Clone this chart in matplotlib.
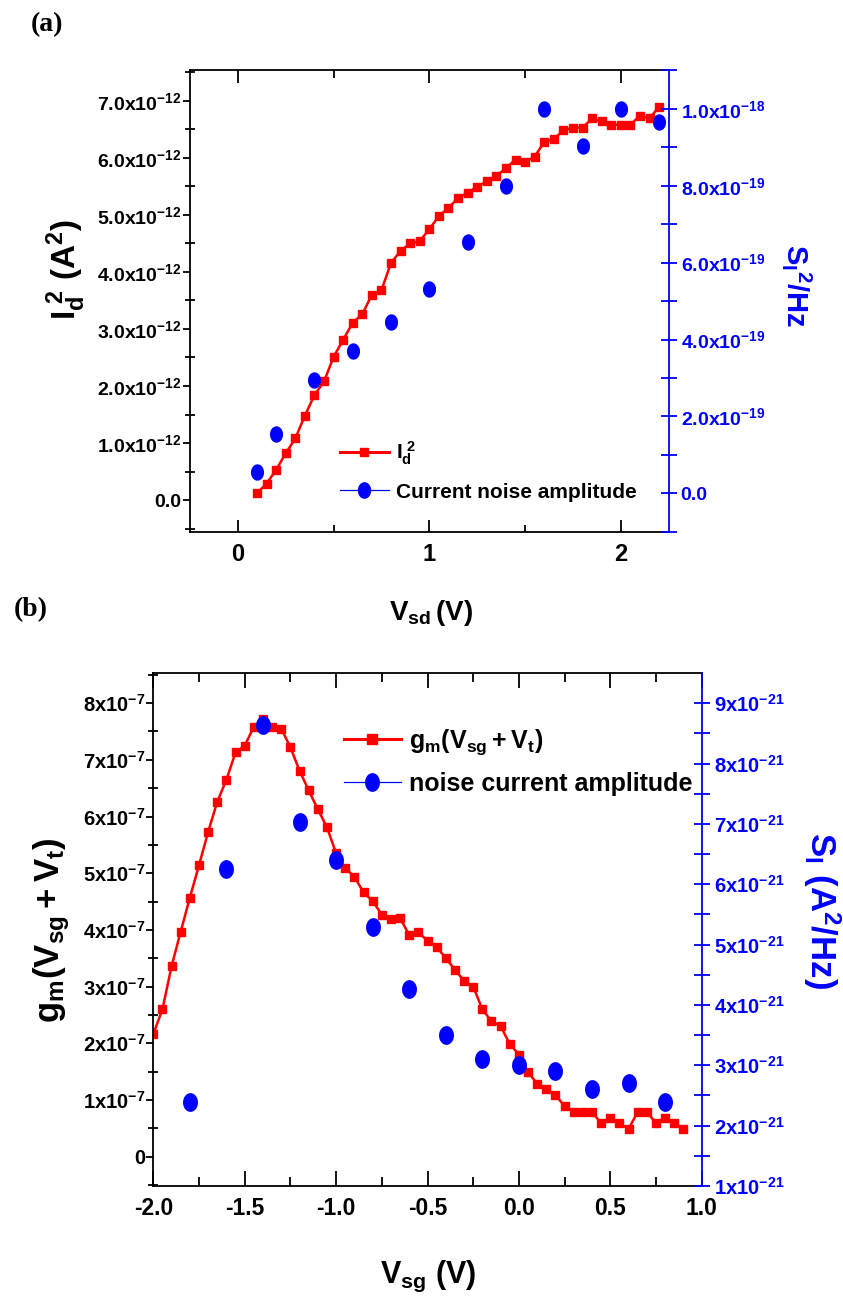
import numpy as np
import matplotlib
matplotlib.use("Agg")
from matplotlib import pyplot as plt
from matplotlib.lines import Line2D
from matplotlib.ticker import FixedLocator, MultipleLocator

plt.rcParams['font.family'] = ['Liberation Sans', 'DejaVu Sans']
plt.rcParams['font.weight'] = 'bold'
plt.rcParams['mathtext.fontset'] = 'custom'
plt.rcParams['mathtext.rm'] = 'Liberation Sans:bold'
plt.rcParams['mathtext.bf'] = 'Liberation Sans:bold'
plt.rcParams['mathtext.it'] = 'Liberation Sans:bold'
plt.rcParams['axes.unicode_minus'] = False

# ---- panel (a) data ----
vsd = [0.10, 0.15, 0.20, 0.25, 0.30, 0.35, 0.40, 0.45, 0.50, 0.55, 0.60,
       0.65, 0.70, 0.75, 0.80, 0.85, 0.90, 0.95, 1.00, 1.05, 1.10, 1.15,
       1.20, 1.25, 1.30, 1.35, 1.40, 1.45, 1.50, 1.55, 1.60, 1.65, 1.70,
       1.75, 1.80, 1.85, 1.90, 1.95, 2.00, 2.05, 2.10, 2.15, 2.20]
id2 = [0.12, 0.29, 0.53, 0.82, 1.08, 1.48, 1.84, 2.08, 2.51, 2.81, 3.11,
       3.26, 3.60, 3.68, 4.16, 4.37, 4.50, 4.54, 4.75, 4.98, 5.12, 5.30,
       5.39, 5.49, 5.59, 5.68, 5.82, 5.97, 5.93, 6.02, 6.28, 6.33, 6.48,
       6.53, 6.53, 6.69, 6.64, 6.58, 6.58, 6.58, 6.74, 6.69, 6.90]  # x1e-12 A^2
vsd_noise = [0.1, 0.2, 0.4, 0.6, 0.8, 1.0, 1.2, 1.4, 1.6, 1.8, 2.0, 2.2]
si_a = [0.55, 1.54, 2.96, 3.71, 4.46, 5.31, 6.54, 8.00, 10.0, 9.04, 10.0, 9.67]  # x1e-19

a_left_ticks = [0, 1, 2, 3, 4, 5, 6, 7]
a_left_labels = ['0.0', r'$\mathbf{1.0x10^{-12}}$', r'$\mathbf{2.0x10^{-12}}$',
                 r'$\mathbf{3.0x10^{-12}}$', r'$\mathbf{4.0x10^{-12}}$',
                 r'$\mathbf{5.0x10^{-12}}$', r'$\mathbf{6.0x10^{-12}}$',
                 r'$\mathbf{7.0x10^{-12}}$']
a_right_ticks = [0, 2, 4, 6, 8, 10]
a_right_labels = ['0.0', r'$\mathbf{2.0x10^{-19}}$', r'$\mathbf{4.0x10^{-19}}$',
                  r'$\mathbf{6.0x10^{-19}}$', r'$\mathbf{8.0x10^{-19}}$',
                  r'$\mathbf{1.0x10^{-18}}$']
a_x_ticks = [0, 1, 2]
a_x_labels = ['0', '1', '2']

# ---- panel (b) data ----
vsg = [-2.00, -1.95, -1.90, -1.85, -1.80, -1.75, -1.70, -1.65, -1.60, -1.55,
       -1.50, -1.45, -1.40, -1.35, -1.30, -1.25, -1.20, -1.15, -1.10, -1.05,
       -1.00, -0.95, -0.90, -0.85, -0.80, -0.75, -0.70, -0.65, -0.60, -0.55,
       -0.50, -0.45, -0.40, -0.35, -0.30, -0.25, -0.20, -0.15, -0.10, -0.05,
       0.00, 0.05, 0.10, 0.15, 0.20, 0.25, 0.30, 0.35, 0.40, 0.45,
       0.50, 0.55, 0.60, 0.65, 0.70, 0.75, 0.80, 0.85, 0.90]
gm = [2.16, 2.60, 3.36, 3.97, 4.57, 5.14, 5.73, 6.26, 6.65, 7.13,
      7.25, 7.58, 7.72, 7.58, 7.55, 7.22, 6.81, 6.46, 6.13, 5.81,
      5.35, 5.09, 4.94, 4.66, 4.51, 4.27, 4.20, 4.21, 3.91, 3.96,
      3.81, 3.70, 3.50, 3.30, 3.10, 3.00, 2.60, 2.39, 2.30, 1.99,
      1.80, 1.49, 1.29, 1.19, 1.09, 0.89, 0.79, 0.79, 0.79, 0.59,
      0.69, 0.59, 0.49, 0.79, 0.79, 0.59, 0.69, 0.59, 0.49]  # x1e-7
vsg_noise = [-1.8, -1.6, -1.4, -1.2, -1.0, -0.8, -0.6, -0.4, -0.2, 0.0,
             0.2, 0.4, 0.6, 0.8]
si_b = [2.39, 6.25, 8.64, 7.03, 6.40, 5.30, 4.27, 3.50, 3.10, 3.00,
        2.90, 2.60, 2.70, 2.39]  # x1e-21

b_left_ticks = [0, 1, 2, 3, 4, 5, 6, 7, 8]
b_left_labels = ['0'] + [r'$\mathbf{%dx10^{-7}}$' % k for k in range(1, 9)]
b_right_ticks = [1, 2, 3, 4, 5, 6, 7, 8, 9]
b_right_labels = [r'$\mathbf{%dx10^{-21}}$' % k for k in range(1, 10)]
b_x_ticks = [-2.0, -1.5, -1.0, -0.5, 0.0, 0.5, 1.0]
b_x_labels = ['-2.0', '-1.5', '-1.0', '-0.5', '0.0', '0.5', '1.0']

RED = '#ff0000'
BLUE = '#0000ff'

# ellipse marker (circles look slightly taller than wide)
t = np.linspace(0, 2 * np.pi, 41)
ellipse = np.column_stack([0.78 * np.cos(t), np.sin(t)])

W, H = 843, 1303
fig = plt.figure(figsize=(W / 100, H / 100), dpi=100, facecolor='white')


def style_panel(ax, ax2, xmin, xlen, ymin_step, rmin_step):
    ax.spines['right'].set_visible(False)
    for s in ['left', 'top', 'bottom']:
        ax.spines[s].set_linewidth(1.3)
    ax2.spines['right'].set_color(BLUE)
    ax2.spines['right'].set_linewidth(1.3)
    for s in ['left', 'top', 'bottom']:
        ax2.spines[s].set_visible(False)
    ax.xaxis.set_minor_locator(MultipleLocator(xmin))
    ax.yaxis.set_minor_locator(MultipleLocator(ymin_step))
    ax2.yaxis.set_minor_locator(MultipleLocator(rmin_step))
    ax.tick_params(axis='x', which='major', direction='in', length=xlen, width=1.3,
                   top=True, pad=8)
    ax.tick_params(axis='x', which='minor', direction='in', length=xlen * 0.6,
                   width=1.3, top=True)
    ax.tick_params(axis='y', which='major', direction='out', length=5, width=1.3, pad=1)
    ax.tick_params(axis='y', which='minor', direction='inout', length=7, width=1.3)
    ax2.tick_params(axis='y', which='both', direction='inout', length=11, width=1.3,
                    colors=BLUE, pad=3)


# ================= panel (a) =================
axa = fig.add_axes([190 / W, 1 - 532 / H, 478.7 / W, 462 / H])
axa2 = axa.twinx()
axa.plot(vsd, id2, '-s', color=RED, lw=1.8, ms=5.2, mec=RED)
axa2.plot(vsd_noise, si_a, linestyle='none', marker=ellipse, ms=10.8,
          color=BLUE, mec=BLUE)
axa.set_xlim(-0.25, 2.25)
axa.set_ylim(-0.56, 7.54)
axa2.set_ylim(-1.006, 11.01)
axa.xaxis.set_major_locator(FixedLocator(a_x_ticks))
axa.set_xticklabels(a_x_labels, fontsize=17)
axa.yaxis.set_major_locator(FixedLocator(a_left_ticks))
axa.set_yticklabels(a_left_labels, fontsize=14)
axa2.yaxis.set_major_locator(FixedLocator(a_right_ticks))
axa2.set_yticklabels(a_right_labels, fontsize=14, color=BLUE)
style_panel(axa, axa2, 0.5, 9, 0.5, 1)

ha = [Line2D([], [], color=RED, lw=2.2, marker='s', ms=6, mec=RED),
      Line2D([], [], color=BLUE, lw=0.9, marker=ellipse, ms=11, mec=BLUE)]
axa2.legend(ha, [r'$\mathbf{I_d^{\ 2}}$', 'Current noise amplitude'],
            loc='center left', bbox_to_anchor=(0.313, 0.133), frameon=False,
            borderpad=0, borderaxespad=0, handlelength=2.35, handletextpad=0.35,
            labelspacing=0.75, fontsize=15, numpoints=1)

fig.text(431 / W, 1 - 613 / H, r'$\mathbf{V_{sd}\,(V)}$', fontsize=20,
         ha='center', va='center')
fig.text(66 / W, 1 - 269 / H, r'$\mathbf{I_d^{\ 2}\ (A^2)}$', fontsize=24,
         rotation=90, ha='center', va='center')
fig.text(797 / W, 1 - 286 / H, r'$\mathbf{S_I{}^{2}/Hz}$', fontsize=21,
         rotation=270, ha='center', va='center', color=BLUE)
fig.text(47 / W, 1 - 25 / H, '(a)', fontsize=20, fontweight='bold',
         family='Liberation Serif', ha='center', va='center')

# ================= panel (b) =================
axb = fig.add_axes([153.3 / W, 1 - 1186 / H, 548.4 / W, 512.7 / H])
axb2 = axb.twinx()
axb.plot(vsg, gm, '-s', color=RED, lw=1.8, ms=6, mec=RED)
axb2.plot(vsg_noise, si_b, linestyle='none', marker=ellipse, ms=12.5,
          color=BLUE, mec=BLUE)
axb.set_xlim(-2.0, 1.0)
axb.set_ylim(-0.517, 8.526)
axb2.set_ylim(1.0, 9.497)
axb.xaxis.set_major_locator(FixedLocator(b_x_ticks))
axb.set_xticklabels(b_x_labels, fontsize=16.5)
axb.yaxis.set_major_locator(FixedLocator(b_left_ticks))
axb.set_yticklabels(b_left_labels, fontsize=14.5)
axb2.yaxis.set_major_locator(FixedLocator(b_right_ticks))
axb2.set_yticklabels(b_right_labels, fontsize=14.5, color=BLUE)
style_panel(axb, axb2, 0.25, 11, 0.5, 0.5)

hb = [Line2D([], [], color=RED, lw=2.2, marker='s', ms=6.5, mec=RED),
      Line2D([], [], color=BLUE, lw=0.9, marker=ellipse, ms=12.5, mec=BLUE)]
axb2.legend(hb, [r'$\mathbf{g_m(V_{sg}+V_t)}$', 'noise current amplitude'],
            loc='center left', bbox_to_anchor=(0.348, 0.828), frameon=False,
            borderpad=0, borderaxespad=0, handlelength=2.26, handletextpad=0.32,
            labelspacing=0.6, fontsize=18, numpoints=1)

fig.text(428 / W, 1 - 1276 / H, r'$\mathbf{V_{sg}\ (V)}$', fontsize=22,
         ha='center', va='center')
fig.text(52 / W, 1 - 930 / H, r'$\mathbf{g_m(V_{sg}+V_t)}$', fontsize=25,
         rotation=90, ha='center', va='center')
fig.text(822 / W, 1 - 910 / H, r'$\mathbf{S_I\ (A^2/Hz)}$', fontsize=25,
         rotation=270, ha='center', va='center', color=BLUE)
fig.text(31 / W, 1 - 610 / H, '(b)', fontsize=20, fontweight='bold',
         family='Liberation Serif', ha='center', va='center')

fig.savefig('out.png', dpi=100, facecolor='white')
